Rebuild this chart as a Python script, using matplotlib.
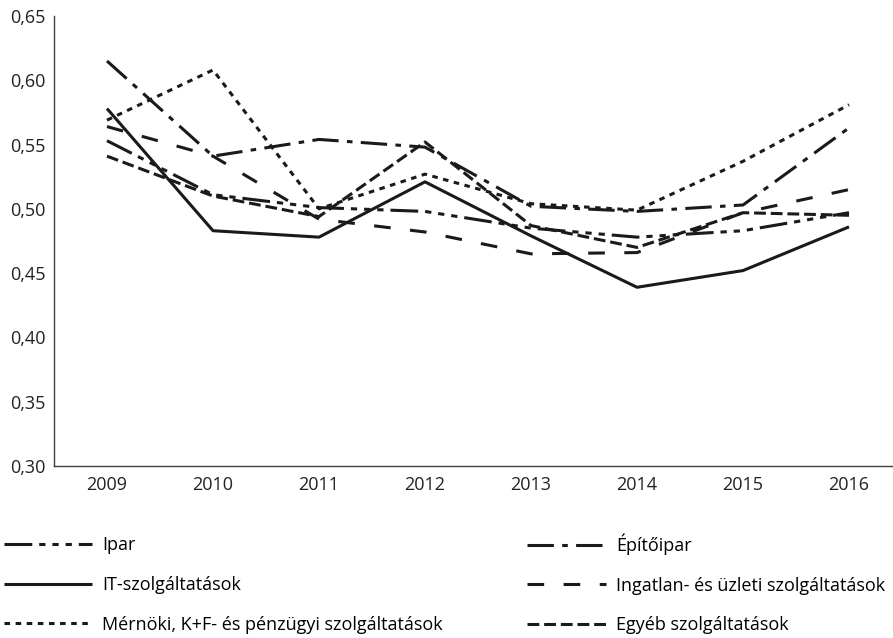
import matplotlib
matplotlib.use("Agg")
import matplotlib.pyplot as plt

plt.rcParams['font.family'] = ['Open Sans', 'DejaVu Sans']
plt.rcParams['lines.scale_dashes'] = False

# adatok
years = ['2009', '2010', '2011', '2012', '2013', '2014', '2015', '2016']
ipar = [0.553, 0.511, 0.501, 0.498, 0.485, 0.478, 0.483, 0.497]
epitoipar = [0.615, 0.541, 0.554, 0.548, 0.502, 0.498, 0.503, 0.563]
it_szolg = [0.578, 0.483, 0.478, 0.521, 0.479, 0.439, 0.452, 0.486]
ingatlan = [0.564, 0.541, 0.492, 0.482, 0.465, 0.466, 0.497, 0.515]
mernoki = [0.569, 0.608, 0.500, 0.527, 0.504, 0.499, 0.537, 0.581]
egyeb = [0.541, 0.510, 0.494, 0.552, 0.487, 0.470, 0.497, 0.495]
y_ticks = [0.30, 0.35, 0.40, 0.45, 0.50, 0.55, 0.60, 0.65]

fig = plt.figure(figsize=(8.93, 6.38), dpi=100)
ax = fig.add_axes([54 / 893, 1 - 466 / 638, 1 - 54 / 893, (466 - 16) / 638])

x = list(range(len(years)))
lw = 2.2
col = '#1a1a1a'

# stílusok (pontban)
series = [
    ('Ipar', ipar, (0, (20, 5, 4.5, 5, 4.5, 5, 4.5, 5))),
    ('IT-szolgáltatások', it_szolg, '-'),
    ('Mérnöki, K+F- és pénzügyi szolgáltatások', mernoki, (0, (4, 4))),
    ('Építőipar', epitoipar, (0, (19, 6, 4, 6))),
    ('Ingatlan- és üzleti szolgáltatások', ingatlan, (0, (12, 14))),
    ('Egyéb szolgáltatások', egyeb, (0, (8.5, 3.5))),
]

lines = []
for label, vals, ls in series:
    ln, = ax.plot(x, vals, linestyle=ls, color=col, linewidth=lw, label=label,
                  solid_capstyle='butt', dash_capstyle='butt')
    lines.append(ln)

ax.set_xlim(-0.5, 7.415)
ax.set_ylim(0.30, 0.65)
ax.set_yticks(y_ticks)
ax.set_yticklabels([f"{v:.2f}".replace('.', ',') for v in y_ticks])
ax.set_xticks(x)
ax.set_xticklabels(years)
ax.tick_params(length=0, labelsize=13, colors='#222222', pad=6)
ax.tick_params(axis='x', pad=7)

for s in ['top', 'right']:
    ax.spines[s].set_visible(False)
for s in ['left', 'bottom']:
    ax.spines[s].set_color('#404040')
    ax.spines[s].set_linewidth(1.0)

# jelmagyarázat két oszlopban
legend_kw = dict(loc='center left', frameon=False, fontsize=13,
                 handletextpad=0.55, labelspacing=1.2,
                 borderpad=0, borderaxespad=0)
fig.legend(lines[:3], [s[0] for s in series[:3]],
           bbox_to_anchor=(4 / 893, 1 - 585 / 638), handlelength=4.87,
           **legend_kw)
fig.legend(lines[3:], [s[0] for s in series[3:]],
           bbox_to_anchor=(527 / 893, 1 - 584 / 638), handlelength=4.4,
           **legend_kw)

fig.savefig('out.png', dpi=100)
